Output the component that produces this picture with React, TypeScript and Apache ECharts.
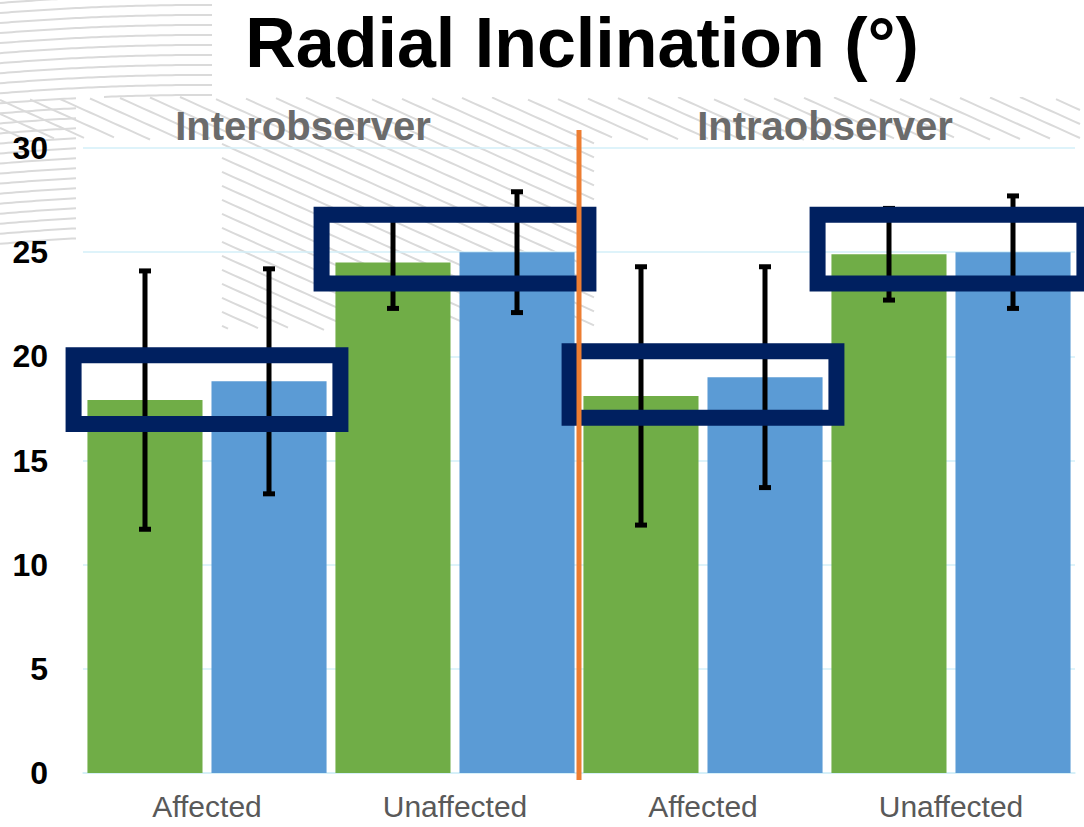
import React, { useEffect, useRef } from "react";
import * as echarts from "echarts";

const categories = ["Affected", "Unaffected", "Affected", "Unaffected"];
const greenValues = [17.9, 24.5, 18.1, 24.9];
const blueValues = [18.8, 25.0, 19.0, 25.0];
const greenErrors = [6.2, 2.2, 6.2, 2.2];
const blueErrors = [5.4, 2.9, 5.3, 2.7];
const highlightLow = [16.75, 23.5, 17.05, 23.5];
const highlightHigh = [20.05, 26.8, 20.25, 26.8];
const groupTitles = ["Interobserver", "Intraobserver"];
const chartTitle = "Radial Inclination (°)";
const yMin = 0;
const yMax = 30;
const yInterval = 5;

const GREEN = "#70AD47";
const BLUE = "#5B9BD5";
const NAVY = "#002060";
const ORANGE = "#ED7D31";
const GRID = "#d3eff8";
const FONT = "'Liberation Sans', Arial, sans-serif";

function maskedRuns(pts: number[][], mask: (x: number, y: number) => boolean) {
  const runs: number[][][] = [];
  let cur: number[][] = [];
  for (const p of pts) {
    if (mask(p[0], p[1])) cur.push(p);
    else {
      if (cur.length > 1) runs.push(cur);
      cur = [];
    }
  }
  if (cur.length > 1) runs.push(cur);
  return runs;
}

function patternElements() {
  const els: any[] = [];
  const style = { stroke: "#dadada", lineWidth: 2, fill: null };
  const maskA = (x: number, y: number) => (x < 213 && y < 97) || (x < 78 && y < 245);
  const cx = 200, cy = 2500;
  for (let r = 2255; r <= 2515; r += 10) {
    const pts: number[][] = [];
    for (let x = 0; x <= 216; x += 4) {
      const d = r * r - (x - cx) * (x - cx);
      if (d < 0) continue;
      pts.push([x, cy - Math.sqrt(d)]);
    }
    for (const run of maskedRuns(pts, maskA)) {
      els.push({ type: "polyline", silent: true, z: -10, shape: { points: run }, style });
    }
  }
  const maskB = (x: number, y: number) =>
    (y >= 97 && y < 140) || (x >= 220 && x < 600 && y >= 140 && y < 330);
  for (let b = -600; b <= 340; b += 14) {
    const pts: number[][] = [];
    for (let x = 0; x <= 1084; x += 6) pts.push([x, b + 0.45 * x]);
    for (const run of maskedRuns(pts, maskB)) {
      els.push({ type: "polyline", silent: true, z: -10, shape: { points: run }, style });
    }
  }
  return els;
}

export default function App() {
  const ref = useRef<HTMLDivElement>(null);

  useEffect(() => {
    document.body.style.margin = "0";
    if (!ref.current) return;
    const chart = echarts.init(ref.current, null, { renderer: "svg" });

    const errRender = (offsetFrac: number) => (params: any, api: any) => {
      const idx = api.value(0);
      const mean = api.value(1);
      const err = api.value(2);
      const band = api.size([1, 0])[0];
      const top = api.coord([idx, mean + err]);
      const bot = api.coord([idx, mean - err]);
      const x = top[0] + offsetFrac * band;
      const lineStyle = { stroke: "#000", lineWidth: 5 };
      const cap = 6;
      return {
        type: "group",
        children: [
          { type: "line", shape: { x1: x, y1: top[1], x2: x, y2: bot[1] }, style: lineStyle },
          { type: "line", shape: { x1: x - cap, y1: top[1], x2: x + cap, y2: top[1] }, style: lineStyle },
          { type: "line", shape: { x1: x - cap, y1: bot[1], x2: x + cap, y2: bot[1] }, style: lineStyle },
        ],
      };
    };

    const option: any = {
      animation: false,
      backgroundColor: "#ffffff",
      grid: { left: 83, right: 9, top: 148, bottom: 54, containLabel: false },
      xAxis: {
        type: "category",
        data: categories,
        axisLine: { show: true, lineStyle: { color: GRID, width: 1.5 } },
        axisTick: { show: false },
        axisLabel: { color: "#595959", fontSize: 30, fontFamily: FONT, margin: 18 },
      },
      yAxis: {
        type: "value",
        min: yMin,
        max: yMax,
        interval: yInterval,
        axisLine: { show: false },
        axisTick: { show: false },
        splitLine: { lineStyle: { color: GRID, width: 1.5 } },
        axisLabel: { color: "#000", fontSize: 32, fontWeight: "bold", fontFamily: FONT, margin: 35 },
      },
      series: [
        {
          type: "bar",
          name: "green",
          data: greenValues,
          barWidth: "46.4%",
          barGap: "7.8%",
          itemStyle: { color: GREEN },
          z: 2,
        },
        {
          type: "bar",
          name: "blue",
          data: blueValues,
          barWidth: "46.4%",
          barGap: "7.8%",
          itemStyle: { color: BLUE },
          z: 2,
        },
        {
          type: "custom",
          name: "greenErr",
          data: greenValues.map((v, i) => [i, v, greenErrors[i]]),
          encode: { x: 0, y: 1 },
          renderItem: errRender(-0.25),
          clip: false,
          z: 4,
        },
        {
          type: "custom",
          name: "blueErr",
          data: blueValues.map((v, i) => [i, v, blueErrors[i]]),
          encode: { x: 0, y: 1 },
          renderItem: errRender(0.25),
          clip: false,
          z: 4,
        },
        {
          type: "custom",
          name: "boxes",
          data: categories.map((_, i) => [i, highlightLow[i], highlightHigh[i]]),
          encode: { x: 0, y: [1, 2] },
          clip: false,
          z: 6,
          renderItem: (params: any, api: any) => {
            const idx = api.value(0);
            const lo = api.coord([idx, api.value(1)]);
            const hi = api.coord([idx, api.value(2)]);
            const band = api.size([1, 0])[0];
            const half = 0.538 * band;
            return {
              type: "rect",
              shape: { x: lo[0] - half, y: hi[1], width: 2 * half, height: lo[1] - hi[1] },
              style: { fill: null, stroke: NAVY, lineWidth: 16 },
            };
          },
        },
        {
          type: "custom",
          name: "divider",
          data: [[1, 2]],
          encode: { x: 0 },
          clip: false,
          z: 7,
          renderItem: (params: any, api: any) => {
            const a = api.coord([api.value(0), yMax]);
            const b = api.coord([api.value(1), yMin]);
            const x = (a[0] + b[0]) / 2;
            return {
              type: "line",
              shape: { x1: x, y1: a[1] - 18, x2: x, y2: b[1] + 7 },
              style: { stroke: ORANGE, lineWidth: 5 },
            };
          },
        },
      ],
      graphic: [
        ...patternElements(),
        {
          type: "rect",
          silent: true,
          z: -5,
          shape: { x: 213, y: 0, width: 871, height: 97 },
          style: { fill: "#ffffff" },
        },
        {
          type: "text",
          z: 10,
          x: 582,
          y: 43,
          style: {
            text: chartTitle,
            fontSize: 70,
            fontWeight: "bold",
            fontFamily: FONT,
            fill: "#000",
            textAlign: "center",
            textVerticalAlign: "middle",
          },
        },
        {
          type: "text",
          z: 10,
          x: 303,
          y: 126,
          style: {
            text: groupTitles[0],
            fontSize: 40,
            fontWeight: "bold",
            fontFamily: FONT,
            fill: "#6b6b6b",
            textAlign: "center",
            textVerticalAlign: "middle",
          },
        },
        {
          type: "text",
          z: 10,
          x: 825,
          y: 126,
          style: {
            text: groupTitles[1],
            fontSize: 40,
            fontWeight: "bold",
            fontFamily: FONT,
            fill: "#6b6b6b",
            textAlign: "center",
            textVerticalAlign: "middle",
          },
        },
      ],
    };

    chart.setOption(option);
    return () => chart.dispose();
  }, []);

  return <div ref={ref} style={{ width: 1084, height: 827 }} />;
}
